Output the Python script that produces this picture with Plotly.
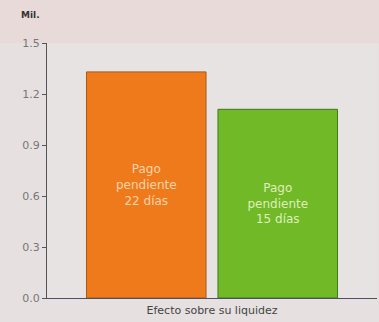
import plotly.graph_objects as go

category = ["Efecto sobre su liquidez"]
series_names = ["Pago<br>pendiente<br>22 días", "Pago<br>pendiente<br>15 días"]
values_22 = [1.33]
values_15 = [1.11]
y_ticks = [0.0, 0.3, 0.6, 0.9, 1.2, 1.5]
y_tick_text = ["0.0", "0.3", "0.6", "0.9", "1.2", "1.5"]

fig = go.Figure()
fig.add_trace(go.Bar(
    x=category, y=values_22, name="22",
    text=[series_names[0]], textposition="inside", insidetextanchor="middle",
    textfont=dict(color="#fcd2aa", size=12, family="DejaVu Sans"),
    marker=dict(color="#ef7a1c", line=dict(color="#a85a1a", width=1)),
))
fig.add_trace(go.Bar(
    x=category, y=values_15, name="15",
    text=[series_names[1]], textposition="inside", insidetextanchor="middle",
    textfont=dict(color="#dcf0b8", size=12, family="DejaVu Sans"),
    marker=dict(color="#72b928", line=dict(color="#3f7a16", width=1)),
))

fig.update_layout(
    width=379, height=322,
    margin=dict(l=47, r=2, t=43, b=24),
    paper_bgcolor="#e6e1e0",
    plot_bgcolor="#e7e3e3",
    showlegend=False,
    barmode="group",
    bargap=0.203,
    bargroupgap=0.091,
    uniformtext=dict(minsize=8, mode="show"),
    font=dict(family="DejaVu Sans", size=11, color="#555555"),
    shapes=[dict(type="rect", xref="paper", yref="paper", x0=-0.2, x1=1.1, y0=1.0, y1=1.2,
                 fillcolor="#e9dada", line=dict(width=0), layer="below")],
    annotations=[dict(text="<b>Mil.</b>", xref="paper", yref="paper", x=-0.085, y=1.11,
                      xanchor="left", yanchor="middle", showarrow=False,
                      font=dict(size=9, color="#333333", family="DejaVu Sans"))],
)
fig.update_xaxes(showline=True, linecolor="#4a5066", linewidth=1,
                 ticks="outside", ticklen=2, tickcolor="rgba(0,0,0,0)",
                 tickfont=dict(size=11, color="#444444", family="DejaVu Sans"), showgrid=False)
fig.update_yaxes(range=[0, 1.5], tickvals=y_ticks, ticktext=y_tick_text,
                 showline=True, linecolor="#555555", linewidth=1,
                 ticks="outside", ticklen=4, tickcolor="#555555",
                 tickfont=dict(size=11, color="#777777", family="DejaVu Sans"),
                 showgrid=False, zeroline=False)

fig.write_html("out.html")
